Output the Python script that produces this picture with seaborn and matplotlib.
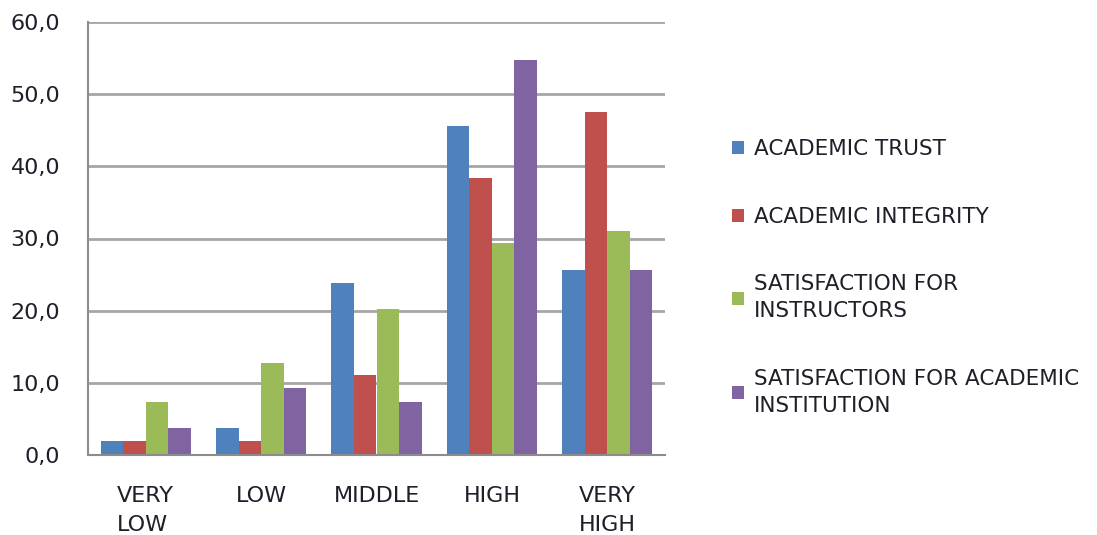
import numpy as np
import pandas as pd
import matplotlib.pyplot as plt
import seaborn as sns
from matplotlib.ticker import FuncFormatter, FixedLocator

# data
levels = ["VERY\nLOW", "LOW", "MIDDLE", "HIGH", "VERY\nHIGH"]
series_names = [
    "ACADEMIC TRUST",
    "ACADEMIC INTEGRITY",
    "SATISFACTION FOR\nINSTRUCTORS",
    "SATISFACTION FOR ACADEMIC\nINSTITUTION",
]
academic_trust = [2.0, 3.8, 23.9, 45.6, 25.7]
academic_integrity = [2.0, 2.0, 11.1, 38.4, 47.5]
satisf_instructors = [7.4, 12.8, 20.3, 29.4, 31.0]
satisf_institution = [3.8, 9.3, 7.4, 54.7, 25.7]

colors = ["#4F81BD", "#C0504D", "#9BBB59", "#8064A2"]
text_col = "#1f1f2a"

# long format for seaborn
df = pd.DataFrame({
    "level": levels * 4,
    "series": np.repeat(series_names, len(levels)),
    "value": academic_trust + academic_integrity + satisf_instructors + satisf_institution,
})

sns.set_style("white")
plt.rcParams["font.family"] = ["DejaVu Sans"]
plt.rcParams["text.color"] = text_col

fig = plt.figure(figsize=(10.97, 5.35), dpi=100)
ax = fig.add_axes([88 / 1097, 80 / 535, 577 / 1097, 433 / 535])

sns.barplot(
    data=df, x="level", y="value", hue="series",
    palette=colors, width=0.78, saturation=1, ax=ax,
    edgecolor="none",
)

ax.set_ylim(0, 60)
ax.set_xlim(-0.5, 4.5)
ax.set_yticks(np.arange(0, 61, 10))
ax.yaxis.set_major_formatter(FuncFormatter(lambda v, p: f"{v:.1f}".replace(".", ",")))
ax.yaxis.grid(True, color="#a6a6a6", linewidth=2)
ax.set_axisbelow(True)

# category boundary ticks on x axis
ax.xaxis.set_minor_locator(FixedLocator(np.arange(-0.5, 5, 1)))
ax.tick_params(axis="x", which="minor", length=10, width=1.5, color="#8c8c8c", direction="out")
ax.tick_params(axis="x", which="major", length=0, pad=22, labelsize=16, labelcolor=text_col)
ax.tick_params(axis="y", length=10, width=1.5, color="#8c8c8c", direction="out",
               labelsize=16, pad=10, labelcolor=text_col)
for lab in ax.get_xticklabels():
    lab.set_multialignment("left")
    lab.set_linespacing(1.6)

for side in ["top", "right"]:
    ax.spines[side].set_visible(False)
for side in ["left", "bottom"]:
    ax.spines[side].set_color("#8c8c8c")
    ax.spines[side].set_linewidth(1.5)

ax.set_xlabel("")
ax.set_ylabel("")

leg = ax.legend(
    loc="upper left", bbox_to_anchor=(713 / 1097, 1 - 120 / 535),
    bbox_transform=fig.transFigure, frameon=False, fontsize=15.5,
    handlelength=0.55, handleheight=0.55, handletextpad=0.45,
    labelspacing=2.2, title=None,
)
for t in leg.get_texts():
    t.set_color(text_col)
    t.set_linespacing(1.45)

fig.savefig("out.png", dpi=100)
